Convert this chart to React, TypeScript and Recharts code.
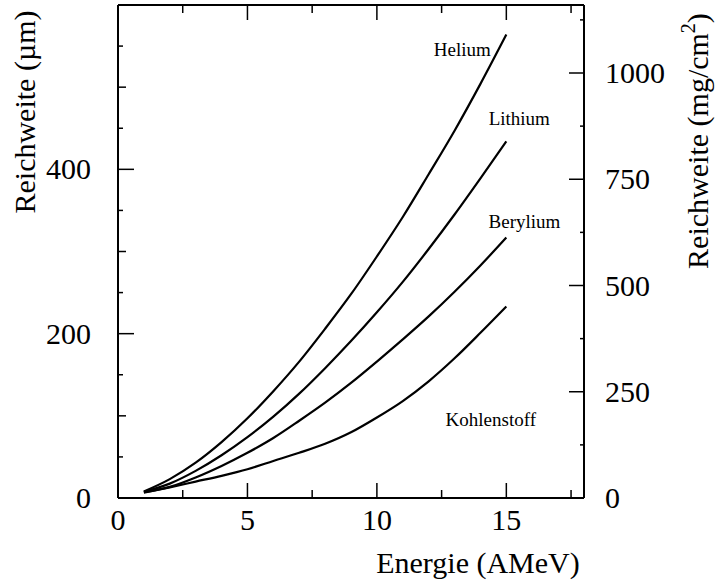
import React from 'react';
import {
  LineChart, Line, XAxis, YAxis, ReferenceDot,
} from 'recharts';

// Reichweite von Ionen in Abhängigkeit der Energie
const energy = [1, 2, 3, 4, 5, 6, 7, 8, 9, 10, 11, 12, 13, 14, 15];
const helium = [8, 23, 43, 68, 97, 130, 166, 206, 248, 294, 342, 394, 447, 504, 564];
const lithium = [7.5, 17.5, 33, 52, 74, 99, 127, 158, 191, 226, 263, 303, 345, 389, 434];
const berylium = [7, 13.5, 25, 39, 55, 73, 94, 116, 140, 166, 193, 221, 251, 283, 317];
const kohlenstoff = [6.5, 13, 20, 27, 35, 45, 55, 66, 80, 98, 118, 142, 170, 201, 233];

const seriesKeys = ['helium', 'lithium', 'berylium', 'kohlenstoff'];
const seriesNames = ['Helium', 'Lithium', 'Berylium', 'Kohlenstoff'];
// label anchor positions (in data units: AMeV, µm)
const labelX = [13.3, 15.5, 15.7, 14.4];
const labelY = [546, 462, 337, 96];

const xTicks = [0, 2.5, 5, 7.5, 10, 12.5, 15, 17.5];
const yTicksLeft = [0, 50, 100, 150, 200, 250, 300, 350, 400, 450, 500, 550];
const yTicksRight = [0, 125, 250, 375, 500, 625, 750, 875, 1000, 1125];

const data = energy.map((e, i) => ({
  e,
  helium: helium[i],
  lithium: lithium[i],
  berylium: berylium[i],
  kohlenstoff: kohlenstoff[i],
}));

const SERIF = '"Liberation Serif", "Times New Roman", serif';
const BIG = 30;

const BottomTick = (props: any) => {
  const { x, y, payload } = props;
  const v = payload.value;
  const major = v % 5 === 0;
  return (
    <g>
      <line x1={x} x2={x} y1={y} y2={y - (major ? 15 : 8)} stroke="#000" strokeWidth={1.5} />
      {major && (
        <text x={x} y={y + 32} textAnchor="middle" fontSize={BIG} fontFamily={SERIF} fill="#000">{v}</text>
      )}
    </g>
  );
};

const TopTick = (props: any) => {
  const { x, y, payload } = props;
  const major = payload.value % 5 === 0;
  return <line x1={x} x2={x} y1={y} y2={y + (major ? 15 : 8)} stroke="#000" strokeWidth={1.5} />;
};

const LeftTick = (props: any) => {
  const { x, y, payload } = props;
  const v = payload.value;
  const len = v % 200 === 0 ? 16 : v % 100 === 0 ? 8 : 5;
  return (
    <g>
      <line x1={x} x2={x + len} y1={y} y2={y} stroke="#000" strokeWidth={1.5} />
      {v % 200 === 0 && (
        <text x={x - 27} y={y + 10} textAnchor="end" fontSize={BIG} fontFamily={SERIF} fill="#000">{v}</text>
      )}
    </g>
  );
};

const RightTick = (props: any) => {
  const { x, y, payload } = props;
  const v = payload.value;
  const major = v % 250 === 0;
  return (
    <g>
      <line x1={x} x2={x - (major ? 15 : 4)} y1={y} y2={y} stroke="#000" strokeWidth={1.5} />
      {major && (
        <text x={x + 21} y={y + 10} textAnchor="start" fontSize={BIG} fontFamily={SERIF} fill="#000">{v}</text>
      )}
    </g>
  );
};

const axisLine = { stroke: '#000', strokeWidth: 2 };

export default function App() {
  return (
    <div style={{ position: 'absolute', left: 0, top: 0, width: 717, height: 582, background: '#fff' }}>
      <LineChart width={717} height={582} data={data} margin={{ top: 4, right: 0, bottom: 0, left: 0 }}>
        <XAxis
          dataKey="e"
          type="number"
          domain={[0, 18]}
          ticks={xTicks}
          interval={0}
          height={84}
          tickSize={0}
          tickMargin={0}
          tickLine={false}
          axisLine={axisLine}
          tick={<BottomTick />}
          label={{
            content: () => (
              <text x={478} y={573} textAnchor="middle" fontSize={BIG} fontFamily={SERIF} fill="#000">
                Energie (AMeV)
              </text>
            ),
          }}
        />
        <XAxis
          xAxisId="top"
          orientation="top"
          dataKey="e"
          type="number"
          domain={[0, 18]}
          ticks={xTicks}
          interval={0}
          height={1}
          tickSize={0}
          tickMargin={0}
          tickLine={false}
          axisLine={axisLine}
          tick={<TopTick />}
        />
        <YAxis
          yAxisId="left"
          type="number"
          domain={[0, 600]}
          ticks={yTicksLeft}
          interval={0}
          width={118}
          tickSize={0}
          tickMargin={0}
          tickLine={false}
          axisLine={axisLine}
          tick={<LeftTick />}
          label={{
            content: () => (
              <text x={35} y={112} transform="rotate(-90 35 112)" textAnchor="middle" fontSize={BIG} fontFamily={SERIF} fill="#000">
                Reichweite (µm)
              </text>
            ),
          }}
        />
        <YAxis
          yAxisId="right"
          orientation="right"
          type="number"
          domain={[0, 1160]}
          allowDataOverflow
          ticks={yTicksRight}
          interval={0}
          width={133}
          tickSize={0}
          tickMargin={0}
          tickLine={false}
          axisLine={axisLine}
          tick={<RightTick />}
          label={{
            content: () => (
              <text x={708} y={141} transform="rotate(-90 708 141)" textAnchor="middle" fontSize={BIG} fontFamily={SERIF} fill="#000">
                Reichweite (mg/cm<tspan fontSize={20} dy={-13}>2</tspan><tspan dy={13}>)</tspan>
              </text>
            ),
          }}
        />
        {seriesKeys.map((k) => (
          <Line
            key={k}
            yAxisId="left"
            type="monotone"
            dataKey={k}
            stroke="#000"
            strokeWidth={2.2}
            dot={false}
            isAnimationActive={false}
          />
        ))}
        {seriesNames.map((n, i) => (
          <ReferenceDot
            key={n}
            yAxisId="left"
            x={labelX[i]}
            y={labelY[i]}
            r={0}
            fill="none"
            stroke="none"
            ifOverflow="visible"
            label={{ value: n, position: 'center', fontSize: 19, fontFamily: SERIF, fill: '#000' }}
          />
        ))}
      </LineChart>
    </div>
  );
}
